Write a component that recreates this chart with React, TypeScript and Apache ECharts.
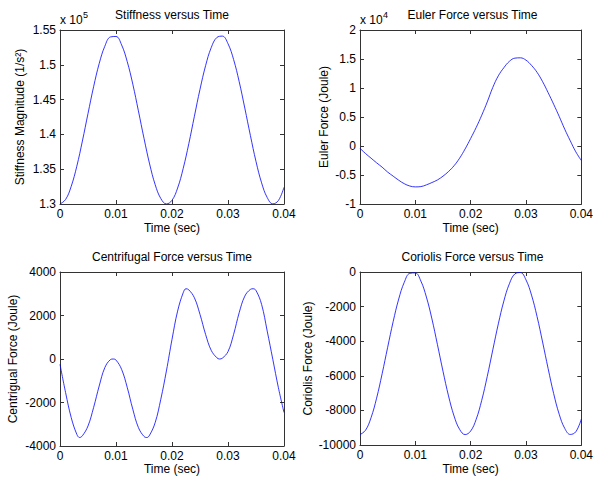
import React, { useEffect, useRef } from "react";
import * as echarts from "echarts";

// ---- data ----
const time = [
  0, 0.001, 0.002, 0.003, 0.004, 0.005, 0.006, 0.007, 0.008, 0.009, 0.01,
  0.011, 0.012, 0.013, 0.014, 0.015, 0.016, 0.017, 0.018, 0.019, 0.02,
  0.021, 0.022, 0.023, 0.024, 0.025, 0.026, 0.027, 0.028, 0.029, 0.03,
  0.031, 0.032, 0.033, 0.034, 0.035, 0.036, 0.037, 0.038, 0.039, 0.04,
];

const stiffness = [
  130000, 130650, 132530, 135420, 139050, 143000, 146840, 150180, 152660, 154000, 154070,
  152860, 150470, 147220, 143380, 139440, 135760, 132770, 130790, 130010, 130530,
  132290, 135110, 138660, 142610, 146480, 149880, 152460, 153920, 154120, 153030,
  150760, 147570, 143780, 139840, 136110, 133040, 130930, 130020, 130500, 132400,
];

const euler = [
  -400, -1300, -2100, -2900, -3650, -4500, -5200, -5900, -6500, -6900, -7050,
  -7000, -6700, -6300, -5850, -5200, -4400, -3400, -2100, -500, 1300,
  3200, 5300, 7600, 10100, 12100, 13500, 14600, 15150, 15200, 14800,
  13900, 12700, 11100, 9200, 7200, 5100, 2900, 900, -1000, -2500,
];

const centrifugalTime = [
  0, 0.001, 0.002, 0.003, 0.0035, 0.004, 0.005, 0.006, 0.007, 0.008, 0.009, 0.0095,
  0.01, 0.011, 0.012, 0.013, 0.014, 0.015, 0.0155, 0.016, 0.017, 0.018, 0.019, 0.02,
  0.021, 0.022, 0.0225, 0.023, 0.024, 0.025, 0.026, 0.027, 0.028, 0.0285, 0.029, 0.03,
  0.031, 0.032, 0.033, 0.034, 0.0345, 0.035, 0.036, 0.037, 0.038, 0.039, 0.04,
];
const centrifugal = [
  -245, -1545, -2690, -3460, -3610, -3530, -3080, -2230, -1240, -400, -30, 0,
  -50, -475, -1300, -2310, -3150, -3560, -3610, -3500, -2920, -1850, -550, 900,
  2200, 3045, 3230, 3180, 2815, 2050, 1130, 400, 60, 0, 40, 340,
  1130, 2130, 2890, 3200, 3230, 3150, 2510, 1285, -15, -1320, -2460,
];

const coriolis = [
  -9400, -9146, -8418, -7294, -5884, -4352, -2858, -1560, -597, -75, -52,
  -522, -1448, -2712, -4202, -5734, -7163, -8324, -9095, -9398, -9193,
  -8512, -7417, -6035, -4503, -2999, -1678, -677, -108, -33, -456,
  -1335, -2576, -4047, -5579, -7027, -8220, -9038, -9391, -9236, -8500,
];

const titles = [
  "Stiffness versus Time",
  "Euler Force versus Time",
  "Centrifugal Force versus Time",
  "Coriolis Force versus Time",
];
const yNames = [
  "Stiffness Magnitude (1/s\u00B2)",
  "Euler Force (Joule)",
  "Centrigual Force (Joule)",
  "Coriolis Force (Joule)",
];
const xName = "Time (sec)";
const xTicks = { min: 0, max: 0.04, interval: 0.01 };
const yTicks = [
  { min: 130000, max: 155000, interval: 5000, scale: 1e5 },
  { min: -10000, max: 20000, interval: 5000, scale: 1e4 },
  { min: -4000, max: 4000, interval: 2000, scale: 1 },
  { min: -10000, max: 0, interval: 2000, scale: 1 },
];
const multipliers = [
  { base: "x 10", exp: "5" },
  { base: "x 10", exp: "4" },
  null,
  null,
];

// ---- layout ----
const FONT = "'Liberation Sans', Arial, Helvetica, sans-serif";
const FS = 12;
const grids = [
  { left: 60, top: 30, width: 224, height: 174, nameGap: 34, xGap: 18, titleTop: 9 },
  { left: 360, top: 30, width: 225, height: 174, nameGap: 30, xGap: 18, titleTop: 9 },
  { left: 60, top: 272, width: 224, height: 174, nameGap: 41, xGap: 17, titleTop: 251 },
  { left: 360, top: 272, width: 225, height: 173, nameGap: 46, xGap: 18, titleTop: 251 },
];
const AXIS_COLOR = "#333";
const LINE_COLOR = "#0000ff";

function fmt(v: number, scale: number) {
  return String(parseFloat((v / scale).toFixed(4)));
}

export default function App() {
  const ref = useRef<HTMLDivElement>(null);
  useEffect(() => {
    if (!ref.current) return;
    const chart = echarts.init(ref.current, undefined, { renderer: "svg" });
    const seriesData = [
      time.map((t, i) => [t, stiffness[i]]),
      time.map((t, i) => [t, euler[i]]),
      centrifugalTime.map((t, i) => [t, centrifugal[i]]),
      time.map((t, i) => [t, coriolis[i]]),
    ];
    const lineStyle = { color: AXIS_COLOR, width: 1 };
    const labelStyle = { color: "#000", fontSize: FS, fontFamily: FONT };
    const xAxis: any[] = [];
    const yAxis: any[] = [];
    grids.forEach((g, i) => {
      const yt = yTicks[i];
      xAxis.push({
        gridIndex: i,
        type: "value",
        position: "bottom",
        ...xTicks,
        name: xName,
        nameLocation: "middle",
        nameGap: g.xGap,
        nameTextStyle: labelStyle,
        axisLine: { show: true, onZero: false, lineStyle },
        axisTick: { show: true, inside: true, length: 4, lineStyle },
        axisLabel: { ...labelStyle, margin: 4, formatter: (v: number) => fmt(v, 1) },
        splitLine: { show: false },
      });
      xAxis.push({
        gridIndex: i,
        type: "value",
        position: "top",
        ...xTicks,
        axisLine: { show: true, onZero: false, lineStyle },
        axisTick: { show: true, inside: true, length: 4, lineStyle },
        axisLabel: { show: false },
        splitLine: { show: false },
      });
      yAxis.push({
        gridIndex: i,
        type: "value",
        position: "left",
        min: yt.min,
        max: yt.max,
        interval: yt.interval,
        name: yNames[i],
        nameLocation: "middle",
        nameGap: g.nameGap,
        nameTextStyle: labelStyle,
        axisLine: { show: true, onZero: false, lineStyle },
        axisTick: { show: true, inside: true, length: 4, lineStyle },
        axisLabel: { ...labelStyle, margin: 4, formatter: (v: number) => fmt(v, yt.scale) },
        splitLine: { show: false },
      });
      yAxis.push({
        gridIndex: i,
        type: "value",
        position: "right",
        min: yt.min,
        max: yt.max,
        interval: yt.interval,
        axisLine: { show: true, onZero: false, lineStyle },
        axisTick: { show: true, inside: true, length: 4, lineStyle },
        axisLabel: { show: false },
        splitLine: { show: false },
      });
    });

    const graphic: any[] = [];
    multipliers.forEach((m, i) => {
      if (!m) return;
      const g = grids[i];
      graphic.push({
        type: "text",
        x: g.left,
        y: g.top - 10,
        style: { text: m.base, fill: "#000", font: `${FS}px ${FONT}`, verticalAlign: "middle" },
      });
      graphic.push({
        type: "text",
        x: g.left + 23,
        y: g.top - 15,
        style: { text: m.exp, fill: "#000", font: `9px ${FONT}`, verticalAlign: "middle" },
      });
    });

    chart.setOption({
      animation: false,
      backgroundColor: "#fff",
      title: grids.map((g, i) => ({
        text: titles[i],
        left: g.left + g.width / 2,
        top: g.titleTop,
        textAlign: "center",
        padding: 0,
        textStyle: { fontSize: FS, fontWeight: "normal", color: "#000", fontFamily: FONT },
      })),
      grid: grids.map((g) => ({
        left: g.left,
        top: g.top,
        width: g.width,
        height: g.height,
        containLabel: false,
      })),
      xAxis,
      yAxis,
      graphic,
      series: seriesData.map((d, i) => ({
        type: "line",
        xAxisIndex: 2 * i,
        yAxisIndex: 2 * i,
        data: d,
        smooth: 0.4,
        showSymbol: false,
        symbol: "none",
        lineStyle: { color: LINE_COLOR, width: 0.8 },
      })),
    });
    return () => chart.dispose();
  }, []);
  return (
    <div
      ref={ref}
      style={{ position: "absolute", left: 0, top: 0, width: 596, height: 477, background: "#fff" }}
    />
  );
}
